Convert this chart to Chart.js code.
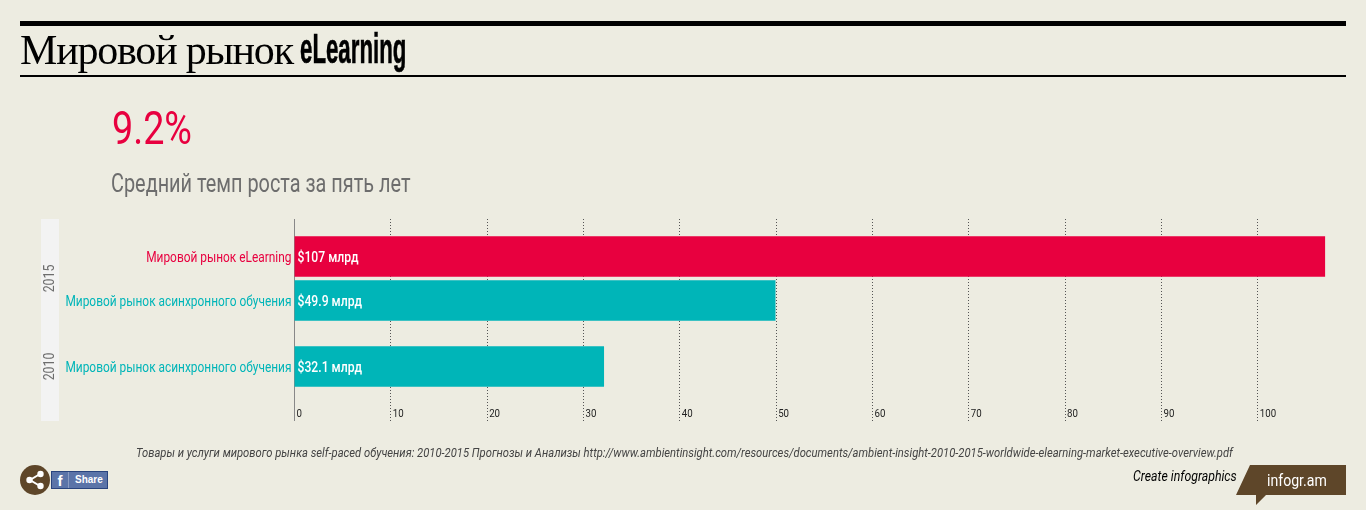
<!DOCTYPE html>
<html lang="ru">
<head>
<meta charset="utf-8">
<title>Мировой рынок eLearning</title>
<script src="https://cdn.jsdelivr.net/npm/chart.js@4.4.7/dist/chart.umd.min.js"></script>
<style>
  html, body { margin: 0; padding: 0; width: 1366px; height: 510px; overflow: hidden; background: #edece1; }
  body { position: relative; font-family: Roboto, sans-serif; }
  canvas { position: absolute; left: 0; top: 0; }
  .abs { position: absolute; white-space: nowrap; transform-origin: left center; }
  #rule-top { left: 20px; top: 21px; width: 1326px; height: 5px; background: #000; }
  #rule-bottom { left: 20px; top: 75px; width: 1326px; height: 2px; background: #000; }
  #title { left: 20px; top: 25px; font: 42px/50px "Liberation Serif", serif; color: #000; letter-spacing: -1.2px; }
  #title-en { left: 300px; top: 24px; font: bold 42px/50px "Liberation Sans", sans-serif; color: #000; transform: scaleX(0.53); -webkit-text-stroke: 0.6px #000; }
  #big { left: 112px; top: 100px; font-size: 46px; line-height: 56px; color: #e8003f; transform: scaleX(0.82); }
  #sub { left: 111px; top: 169px; font-size: 25px; line-height: 30px; color: #6d6d6d; transform: scaleX(0.795); }
  #source { left: 136px; top: 445px; font-size: 13px; line-height: 16px; font-style: italic; color: #444; transform: scaleX(0.864); }
  #create { left: 1133px; top: 467px; font-size: 15px; line-height: 18px; font-style: italic; color: #000; transform: scaleX(0.82); }
  #badge-text { left: 1267px; top: 470px; font-size: 17px; line-height: 20px; color: #fff; transform: scaleX(0.83); }
  #fb { left: 51px; top: 471px; width: 57px; height: 18px; box-sizing: border-box; border: 1px solid #29447e; background: #5b74a8; color: #fff; }
  #fb .f { position: absolute; left: 0; top: 0; width: 16px; height: 16px; border-right: 1px solid #8a9cc2; font: bold 15px/18px "Liberation Sans", sans-serif; text-align: center; }
  #fb .s { position: absolute; left: 23px; top: 0; font: bold 10px/16px "Liberation Sans", sans-serif; }
</style>
</head>
<body>
<canvas id="chart" width="1366" height="510"></canvas>

<div class="abs" id="rule-top"></div>
<div class="abs" id="title">Мировой рынок</div>
<div class="abs" id="title-en">eLearning</div>
<div class="abs" id="rule-bottom"></div>
<div class="abs" id="big">9.2%</div>
<div class="abs" id="sub">Средний темп роста за пять лет</div>
<div class="abs" id="source">Товары и услуги мирового рынка self-paced обучения: 2010-2015 Прогнозы и Анализы http://www.ambientinsight.com/resources/documents/ambient-insight-2010-2015-worldwide-elearning-market-executive-overview.pdf</div>

<svg class="abs" style="left:20px;top:465px" width="30" height="30" viewBox="0 0 30 30">
  <circle cx="15" cy="15" r="15" fill="#5e4629"/>
  <path d="M20 9 L10 15 L20 21" fill="none" stroke="#fff" stroke-width="2"/>
  <circle cx="20.5" cy="9" r="3.2" fill="#fff"/>
  <circle cx="9.5" cy="15" r="3.2" fill="#fff"/>
  <circle cx="20.5" cy="21" r="3.2" fill="#fff"/>
</svg>
<div class="abs" id="fb"><span class="f">f</span><span class="s">Share</span></div>

<div class="abs" id="create">Create infographics</div>
<svg class="abs" style="left:1236px;top:465px" width="110" height="40" viewBox="0 0 110 40">
  <path d="M14 0 H110 V30 H30 L20 40 V30 H0 Z" fill="#5e4629"/>
</svg>
<div class="abs" id="badge-text">infogr.am</div>

<script>
// blank slots keep the uneven spacing between the bars
const categories = ["", "Мировой рынок eLearning", "", "Мировой рынок асинхронного обучения", "", "", "Мировой рынок асинхронного обучения", "", ""];
const values = [null, 107, null, 49.9, null, null, 32.1, null, null];
const barColors = [null, "#e8003f", null, "#00b5b8", null, null, "#00b5b8", null, null];
const xTicks = [0, 10, 20, 30, 40, 50, 60, 70, 80, 90, 100];
const years = ["2015", "2010"];
const yearSlots = [[1, 3], [6, 6]];

// no narrow font installed, so canvas text gets squeezed horizontally
function squeezed(ctx, text, x, y, sx, align) {
  ctx.save();
  ctx.translate(x, y);
  ctx.scale(sx, 1);
  ctx.textAlign = align;
  ctx.textBaseline = "middle";
  ctx.fillText(text, 0, 0);
  ctx.restore();
}

// year strip, dotted grid, axis labels, value labels
const extras = {
  id: "extras",
  beforeDatasetsDraw(chart) {
    const { ctx, scales: { x, y } } = chart;
    ctx.save();
    ctx.fillStyle = "#f3f3f3";
    ctx.fillRect(41, 219, 18, 202);

    ctx.strokeStyle = "#555";
    ctx.lineWidth = 1;
    ctx.setLineDash([1, 2]);
    xTicks.slice(1).forEach((t) => {
      const px = Math.round(x.getPixelForValue(t) - 0.5) + 0.5;
      ctx.beginPath();
      ctx.moveTo(px, 219);
      ctx.lineTo(px, 421);
      ctx.stroke();
    });
    ctx.setLineDash([]);
    ctx.strokeStyle = "#888";
    const zero = Math.round(x.getPixelForValue(0) - 0.5) + 0.5;
    ctx.beginPath();
    ctx.moveTo(zero, 219);
    ctx.lineTo(zero, 421);
    ctx.stroke();

    ctx.fillStyle = "#6d6d6d";
    ctx.font = "14px Roboto";
    years.forEach((year, i) => {
      const mid = (y.getPixelForValue(yearSlots[i][0]) + y.getPixelForValue(yearSlots[i][1])) / 2;
      ctx.save();
      ctx.translate(50, mid);
      ctx.rotate(-Math.PI / 2);
      squeezed(ctx, year, 0, 0, 0.88, "center");
      ctx.restore();
    });

    ctx.font = "14px Roboto";
    categories.forEach((label, i) => {
      if (!label) return;
      ctx.fillStyle = barColors[i];
      squeezed(ctx, label, x.getPixelForValue(0) - 3, y.getPixelForValue(i) + 1.5, 0.85, "right");
    });

    ctx.fillStyle = "#222";
    ctx.font = "11px Roboto";
    xTicks.forEach((t) => {
      squeezed(ctx, String(t), x.getPixelForValue(t) + 2, 414.5, 0.88, "left");
    });
    ctx.restore();
  },
  afterDatasetsDraw(chart) {
    const { ctx, scales: { x, y } } = chart;
    ctx.save();
    ctx.fillStyle = "#fff";
    ctx.font = "500 14px Roboto";
    values.forEach((v, i) => {
      if (v === null) return;
      squeezed(ctx, "$" + v + " млрд", x.getPixelForValue(0) + 3, y.getPixelForValue(i) + 1.5, 0.87, "left");
    });
    ctx.restore();
  },
};

new Chart(document.getElementById("chart"), {
  type: "bar",
  data: {
    labels: categories,
    datasets: [{ data: values, backgroundColor: barColors, barThickness: 40, borderWidth: 0 }],
  },
  options: {
    indexAxis: "y",
    responsive: false,
    animation: false,
    layout: { padding: { left: 294.5, top: 223.5, right: 40.8, bottom: 88.5 } },
    plugins: { legend: { display: false }, tooltip: { enabled: false } },
    scales: {
      x: { display: false, min: 0, max: 107 },
      y: { display: false },
    },
  },
  plugins: [extras],
});
</script>
</body>
</html>
